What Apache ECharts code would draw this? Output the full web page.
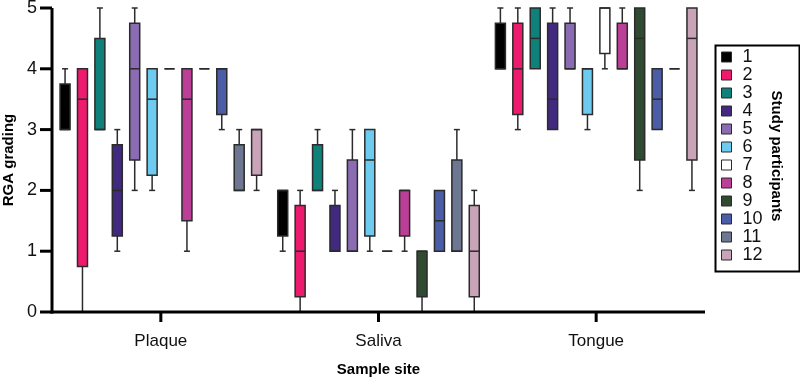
<!DOCTYPE html>
<html>
<head>
<meta charset="utf-8">
<script src="https://cdn.jsdelivr.net/npm/echarts@6/dist/echarts.min.js"></script>
<style>
  html, body { margin: 0; padding: 0; background: #fff; }
  #main { width: 800px; height: 381px; }
</style>
</head>
<body>
<div id="main"></div>
<script>
// sample sites on the x axis
var sites = ['Plaque', 'Saliva', 'Tongue'];
var participants = ['1', '2', '3', '4', '5', '6', '7', '8', '9', '10', '11', '12'];
var colors = ['#000000', '#ee1a6e', '#10807b', '#40297f', '#8b6cb2', '#6ecbf0',
              '#ffffff', '#bb3f96', '#2f4a31', '#4a5da6', '#6d7792', '#c9a4b9'];

// [min, q1, median, q3, max] for participant 1..12
var plaque = [
    [3, 3, 3, 3.75, 4],
    [0, 0.75, 3.5, 4, 4],
    [3, 3, 3, 4.5, 5],
    [1, 1.25, 2, 2.75, 3],
    [2, 2.5, 4, 4.75, 5],
    [2, 2.25, 3.5, 4, 4],
    [4, 4, 4, 4, 4],
    [1, 1.5, 3.5, 4, 4],
    [4, 4, 4, 4, 4],
    [3, 3.25, 4, 4, 4],
    [2, 2, 2, 2.75, 3],
    [2, 2.25, 3, 3, 3]
];
var saliva = [
    [1, 1.25, 2, 2, 2],
    [0, 0.25, 1, 1.75, 2],
    [2, 2, 2, 2.75, 3],
    [1, 1, 1, 1.75, 2],
    [1, 1, 1, 2.5, 3],
    [1, 1.25, 2.5, 3, 3],
    [1, 1, 1, 1, 1],
    [1, 1.25, 2, 2, 2],
    [0, 0.25, 1, 1, 1],
    [1, 1, 1.5, 2, 2],
    [1, 1, 1, 2.5, 3],
    [0, 0.25, 1, 1.75, 2]
];
var tongue = [
    [4, 4, 4, 4.75, 5],
    [3, 3.25, 4, 4.75, 5],
    [4, 4, 4.5, 5, 5],
    [3, 3, 3.5, 4.75, 5],
    [4, 4, 4, 4.75, 5],
    [3, 3.25, 4, 4, 4],
    [4, 4.25, 5, 5, 5],
    [4, 4, 4, 4.75, 5],
    [2, 2.5, 4.5, 5, 5],
    [3, 3, 3.5, 4, 4],
    [4, 4, 4, 4, 4],
    [2, 2.5, 4.5, 5, 5]
];
var yTicks = [0, 1, 2, 3, 4, 5];

var FONT = '"Liberation Sans", Arial, Helvetica, sans-serif';
var STEP = 0.08;    // gap between neighbouring boxes, share of a band
var BOXW = 10;      // px
var CAPW = 6;       // px
var LINE = '#2b2b2b';

function seg(x1, y1, x2, y2, color, width) {
    return {
        type: 'line',
        shape: { x1: x1, y1: y1, x2: x2, y2: y2 },
        style: { stroke: color || LINE, lineWidth: width || 1.5 }
    };
}

function renderBox(params, api) {
    var p = params.seriesIndex;
    var cat = api.value(0);
    var band = api.size([1, 0])[0];
    var cx = api.coord([cat, 0])[0] + (p - 5.5) * band * STEP;
    var yMin = api.coord([cat, api.value(1)])[1];
    var yQ1 = api.coord([cat, api.value(2)])[1];
    var yMed = api.coord([cat, api.value(3)])[1];
    var yQ3 = api.coord([cat, api.value(4)])[1];
    var yMax = api.coord([cat, api.value(5)])[1];
    var children = [];
    if (yMin - yQ1 > 0.5) {
        children.push(seg(cx, yQ1, cx, yMin));
        children.push(seg(cx - CAPW / 2, yMin, cx + CAPW / 2, yMin));
    }
    if (yQ3 - yMax > 0.5) {
        children.push(seg(cx, yMax, cx, yQ3));
        children.push(seg(cx - CAPW / 2, yMax, cx + CAPW / 2, yMax));
    }
    children.push({
        type: 'rect',
        shape: { x: cx - BOXW / 2, y: yQ3, width: BOXW, height: yQ1 - yQ3 },
        style: { fill: colors[p], stroke: LINE, lineWidth: 1.5 }
    });
    children.push(seg(cx - BOXW / 2, yMed, cx + BOXW / 2, yMed));
    return { type: 'group', children: children };
}

// black axis lines and outward ticks, placed through the chart's own scales
function renderFrame(params, api) {
    var cs = params.coordSys;
    var left = cs.x, top = cs.y, right = cs.x + cs.width, bottom = cs.y + cs.height;
    var children = [
        seg(left, bottom + 1.5, left, top, '#000', 3),
        seg(left - 1.5, bottom, right, bottom, '#000', 3)
    ];
    yTicks.forEach(function (v) {
        var y = api.coord([0, v])[1];
        children.push(seg(left - 12, y, left, y, '#000', 3));
    });
    sites.forEach(function (s, i) {
        var x = api.coord([i, 0])[0];
        children.push(seg(x, bottom, x, bottom + 10, '#000', 3));
    });
    return { type: 'group', children: children };
}

var series = participants.map(function (name, p) {
    return {
        name: name,
        type: 'custom',
        renderItem: renderBox,
        itemStyle: { color: colors[p] },
        encode: { x: 0, y: [1, 2, 3, 4, 5] },
        data: [
            [0].concat(plaque[p]),
            [1].concat(saliva[p]),
            [2].concat(tongue[p])
        ],
        z: 3
    };
});
series.push({
    name: 'axes',
    type: 'custom',
    renderItem: renderFrame,
    encode: { x: 0, y: 1 },
    data: [[0, 0]],
    silent: true,
    clip: false,
    z: 5
});

var chart = echarts.init(document.getElementById('main'));
chart.setOption({
    animation: false,
    backgroundColor: '#ffffff',
    textStyle: { fontFamily: FONT },
    grid: { left: 52, right: 95, top: 8, bottom: 69, outerBoundsMode: 'none' },
    xAxis: {
        type: 'category',
        data: sites,
        name: 'Sample site',
        nameLocation: 'middle',
        nameGap: 50,
        nameTextStyle: { fontSize: 15, fontWeight: 'bold', color: '#000' },
        axisLine: { show: false },
        axisTick: { show: false },
        axisLabel: { fontSize: 17, color: '#111', margin: 21, fontFamily: FONT },
        splitLine: { show: false }
    },
    yAxis: {
        type: 'value',
        min: yTicks[0],
        max: yTicks[yTicks.length - 1],
        interval: 1,
        name: 'RGA grading',
        nameLocation: 'middle',
        nameGap: 32,
        nameTextStyle: { fontSize: 15, fontWeight: 'bold', color: '#000' },
        axisLine: { show: false },
        axisTick: { show: false },
        axisLabel: { fontSize: 18, color: '#111', margin: 15, fontFamily: FONT },
        splitLine: { show: false }
    },
    legend: {
        orient: 'vertical',
        left: 721,
        top: 48,
        padding: 0,
        icon: 'rect',
        itemWidth: 10,
        itemHeight: 10,
        itemGap: 0,
        itemStyle: { borderColor: LINE, borderWidth: 1 },
        textStyle: { fontSize: 18, lineHeight: 18, color: '#111', padding: [0, 0, 0, 6] },
        selectedMode: false,
        data: participants
    },
    graphic: [
        {
            type: 'rect',
            left: 713,
            top: 43,
            shape: { width: 84, height: 226 },
            style: { fill: 'none', stroke: '#000', lineWidth: 2 }
        },
        {
            type: 'text',
            x: 776,
            y: 156,
            rotation: -Math.PI / 2,
            style: {
                text: 'Study participants',
                fontSize: 15,
                fontWeight: 'bold',
                fill: '#000',
                align: 'center',
                verticalAlign: 'middle'
            }
        }
    ],
    series: series
});
</script>
</body>
</html>
